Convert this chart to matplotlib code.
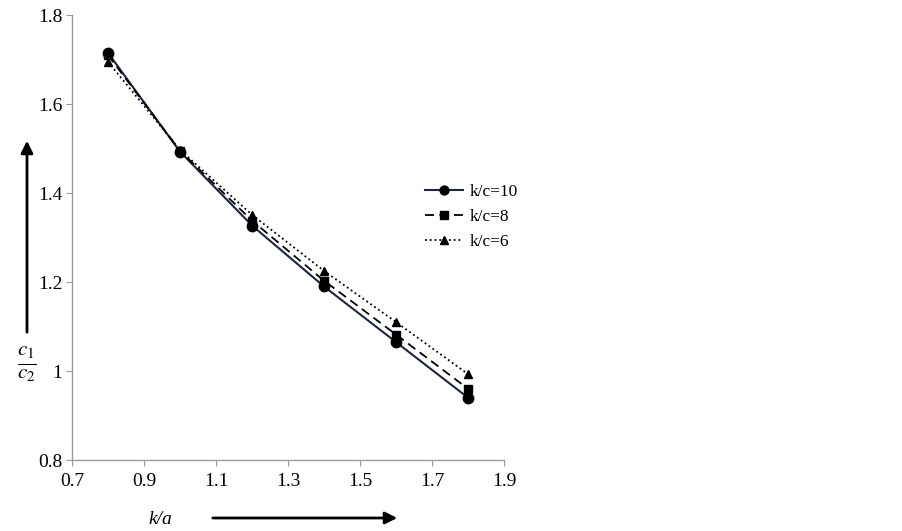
import matplotlib
matplotlib.use("Agg")
import matplotlib.pyplot as plt

plt.rcParams['font.family'] = ['Liberation Serif', 'DejaVu Serif']

x = [0.8, 1.0, 1.2, 1.4, 1.6, 1.8]
kc10 = [1.715, 1.493, 1.327, 1.190, 1.065, 0.940]
kc8 = [1.710, 1.495, 1.338, 1.203, 1.082, 0.960]
kc6 = [1.695, 1.497, 1.351, 1.225, 1.110, 0.993]
labels = ["k/c=10", "k/c=8", "k/c=6"]
xticks = [0.7, 0.9, 1.1, 1.3, 1.5, 1.7, 1.9]
yticks = [0.8, 1.0, 1.2, 1.4, 1.6, 1.8]
yticklabels = ["0.8", "1", "1.2", "1.4", "1.6", "1.8"]

fig = plt.figure(figsize=(9.02, 5.31), dpi=100)
ax = fig.add_axes([0.0798, 0.1337, 0.4790, 0.8380])

ax.plot(x, kc10, '-', color='#1c2541', lw=1.5, marker='o', ms=7.5,
        mfc='black', mec='black', label=labels[0])
ax.plot(x, kc8, '--', color='black', lw=1.3, dashes=(5, 3), marker='s', ms=6,
        mfc='black', mec='black', label=labels[1])
ax.plot(x, kc6, ':', color='black', lw=1.3, marker='^', ms=6,
        mfc='black', mec='black', label=labels[2])

ax.set_xlim(0.7, 1.9)
ax.set_ylim(0.8, 1.8)
ax.set_xticks(xticks)
ax.set_xticklabels([f"{t:.1f}" for t in xticks])
ax.set_yticks(yticks)
ax.set_yticklabels(yticklabels)
for s in ['top', 'right']:
    ax.spines[s].set_visible(False)
for s in ['left', 'bottom']:
    ax.spines[s].set_color('#999999')
    ax.spines[s].set_linewidth(1.0)
ax.tick_params(axis='both', direction='out', length=4, color='#999999',
               labelsize=14)
ax.tick_params(axis='y', pad=3)
ax.tick_params(axis='x', pad=5)

leg = ax.legend(loc='upper left', bbox_to_anchor=(0.78, 0.655), frameon=False,
                fontsize=12.5, handlelength=2.2, handletextpad=0.4,
                labelspacing=0.5, markerscale=0.85)

# direction arrows
fig.patches.append(matplotlib.patches.FancyArrowPatch(
    (27 / 902, 1 - 335 / 531), (27 / 902, 1 - 138 / 531),
    transform=fig.transFigure, arrowstyle='-|>', mutation_scale=18,
    color='black', lw=2))
fig.patches.append(matplotlib.patches.FancyArrowPatch(
    (210 / 902, 1 - 518 / 531), (400 / 902, 1 - 518 / 531),
    transform=fig.transFigure, arrowstyle='-|>', mutation_scale=18,
    color='black', lw=2))

fig.text(27 / 902, 1 - 364 / 531, r"$\frac{c_1}{c_2}$", ha='center', va='center',
         fontsize=22, math_fontfamily='stix')
fig.text(160 / 902, 1 - 519 / 531, "k/a", ha='center', va='center',
         fontsize=14, style='italic')

fig.savefig("out.png", dpi=100)
